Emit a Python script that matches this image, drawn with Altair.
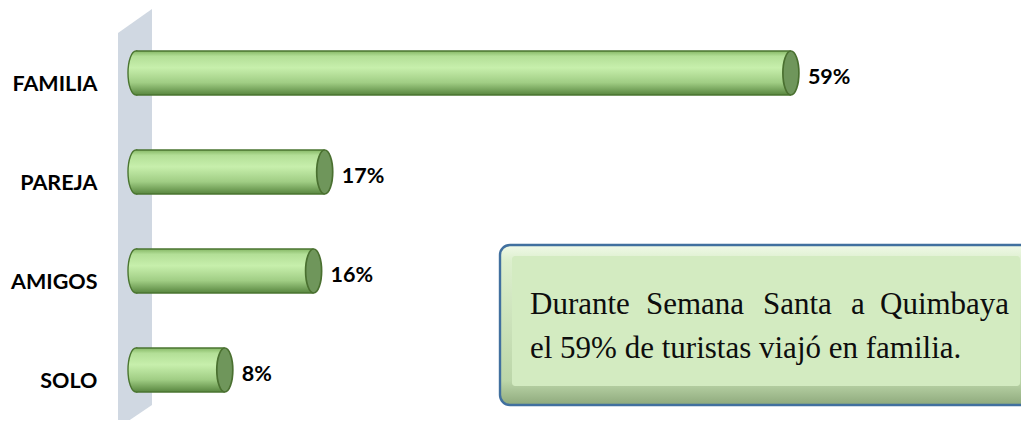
import altair as alt
import pandas as pd

# ---- data ----
categories = ["FAMILIA", "PAREJA", "AMIGOS", "SOLO"]
values = [59, 17, 16, 8]
value_labels = ["59%", "17%", "16%", "8%"]
note_line1_words = ["Durante", "Semana", "Santa", "a", "Quimbaya"]
note_line2 = "el 59% de turistas viajó en familia."

df = pd.DataFrame({"cat": categories, "val": values, "lab": value_labels,
                   "zero": [0] * len(values)})
one = pd.DataFrame({"k": [0]})

W, H = 1013, 412
X0, S = 128.0, 11.1  # pixel position of 0 and pixels per unit
x_scale = alt.Scale(domain=[-X0 / S, (W - X0) / S], nice=False, zero=False)
y_scale = alt.Scale(domain=categories, range=[15.5, 411.5],
                    paddingInner=0.556, paddingOuter=0.278)

y_axis = alt.Axis(orient="left", offset=-89, domain=False, ticks=False, tickSize=0,
                  labelPadding=0, labelFont="Lato", labelFontSize=21.5,
                  labelFontWeight="bold", labelColor="black", labelOffset=12,
                  labelAlign="right", labelBaseline="middle", title=None, grid=False)
Y = alt.Y("cat:N", scale=y_scale, axis=y_axis)

bar_grad = alt.Gradient(gradient="linear", x1=0, y1=0, x2=0, y2=1, stops=[
    alt.GradientStop(offset=0.0, color="#86b866"),
    alt.GradientStop(offset=0.12, color="#b3df97"),
    alt.GradientStop(offset=0.38, color="#c7efac"),
    alt.GradientStop(offset=0.72, color="#a0cd84"),
    alt.GradientStop(offset=1.0, color="#58863f"),
])

ELLIPSE = "M0,-1A0.364,1,0,1,1,0,1A0.364,1,0,1,1,0,-1Z"
WALL = "M0.0811,-1L-0.0811,-0.8854L-0.0811,1L0.0811,0.890Z"

wall = alt.Chart(one).mark_point(shape=WALL, size=175561, filled=True, fill="#d0d8e2",
                                 opacity=1, strokeWidth=0).encode(
    x=alt.value(127), y=alt.value(210.5))

base = alt.Chart(df).encode(y=Y)

left_cap = base.mark_point(shape=ELLIPSE, size=1936, filled=True, fill=bar_grad,
                           stroke="#4a7530", strokeWidth=1.4, opacity=1).encode(
    x=alt.X("zero:Q", scale=x_scale, axis=None))

body = base.mark_bar(fill=bar_grad, strokeWidth=0).encode(
    x=alt.X("zero:Q", scale=x_scale, axis=None), x2="val:Q")

edge_top = base.mark_rule(color="#4a7530", strokeWidth=1.4, yOffset=-22).encode(
    x=alt.X("zero:Q", scale=x_scale, axis=None), x2="val:Q")
edge_bot = base.mark_rule(color="#4a7530", strokeWidth=1.4, yOffset=22).encode(
    x=alt.X("zero:Q", scale=x_scale, axis=None), x2="val:Q")

right_cap = base.mark_point(shape=ELLIPSE, size=1936, filled=True, fill="#6f965b",
                            stroke="#4a7030", strokeWidth=1.7, opacity=1).encode(
    x=alt.X("val:Q", scale=x_scale, axis=None))

val_text = base.mark_text(align="left", baseline="middle", dx=17, dy=5, font="Lato",
                          fontSize=21.5, fontWeight="bold", color="black").encode(
    x=alt.X("val:Q", scale=x_scale, axis=None), text="lab:N")

# ---- note box ----
box_grad = alt.Gradient(gradient="linear", x1=0, y1=0, x2=0, y2=1, stops=[
    alt.GradientStop(offset=0.0, color="#f0f9e8"),
    alt.GradientStop(offset=0.1, color="#dcefcd"),
    alt.GradientStop(offset=0.85, color="#bcd6a9"),
    alt.GradientStop(offset=1.0, color="#8ea97c"),
])
box_outer = alt.Chart(one).mark_rect(fill=box_grad, stroke="#41709f", strokeWidth=2.4,
                                     cornerRadius=10).encode(
    x=alt.value(492), x2=alt.value(1024), y=alt.value(237), y2=alt.value(397))
box_inner = alt.Chart(one).mark_rect(fill="#d3ebc1", cornerRadius=3).encode(
    x=alt.value(504), x2=alt.value(1012), y=alt.value(248), y2=alt.value(378))

word_x = [522, 638, 755, 843, 872]
words = pd.DataFrame({"w": note_line1_words, "px": word_x})
line1 = alt.Chart(words).mark_text(align="left", baseline="alphabetic",
                                   font="Liberation Serif", fontSize=31,
                                   color="#0d0d0d").encode(
    x=alt.X("px:Q", scale=None), y=alt.value(306), text="w:N")
line2 = alt.Chart(pd.DataFrame({"t": [note_line2]})).mark_text(
    align="left", baseline="alphabetic", font="Liberation Serif", fontSize=31,
    color="#0d0d0d").encode(x=alt.value(522), y=alt.value(350), text="t:N")

chart = alt.layer(wall, left_cap, body, edge_top, edge_bot, right_cap, val_text,
                  box_outer, box_inner, line1, line2).resolve_scale(x="independent").properties(
    width=W, height=H, padding=0, autosize=alt.AutoSizeParams(type="none"),
    background="white"
).configure_view(stroke=None)

chart.save("out.html", embed_options={"renderer": "svg", "actions": False})
